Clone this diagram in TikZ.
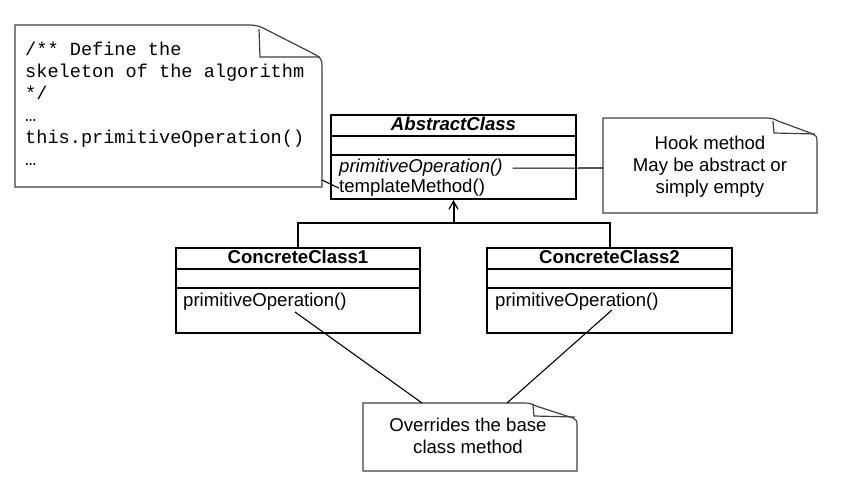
\documentclass[tikz,border=0pt]{standalone}
\usepackage{fontspec}
\setmainfont{Liberation Sans}
\newfontfamily\codefont{Liberation Mono}
\usetikzlibrary{arrows.meta,calc}
\begin{document}
\begin{tikzpicture}[x=1pt,y=-1pt,
  cls/.style={draw=black,line width=2pt,fill=white,rectangle,inner sep=0pt},
  sepline/.style={draw=black,line width=1.8pt},
  notebox/.style={draw=black!75,line width=1.2pt,fill=white},
  fold/.style={draw=black!75,line width=1.2pt},
  link/.style={draw=black,line width=1.1pt},
  gen/.style={draw=black,line width=2pt},
  txt/.style={inner sep=0pt,font=\fontsize{18.6}{22}\selectfont},
  code/.style={inner sep=0pt,font={\codefont\fontsize{18.6}{22}\selectfont}},
  ]
\useasboundingbox (0,0) rectangle (851,494);

% ---------- note 1 (code) ----------
\draw[notebox] (15,25) -- (248,25) .. controls (258,25) and (261,27) .. (267,30)
  -- (316,55) .. controls (321,58) and (322,60) .. (322,66) -- (322,187) -- (15,187) -- cycle;
\draw[fold] (259,29) -- (260,57) -- (320,57);
\coordinate (n1a) at (322,180);
\node[code,anchor=base west] (c1) at (25,56) {/** Define the};
\node[code,anchor=base west] (c2) at (25,78) {skeleton of the algorithm};
\node[code,anchor=base west] (c3) at (25,100) {*/};
\node[code,anchor=base west] (c4) at (25,122) {…};
\node[code,anchor=base west] (c5) at (25,144) {this.primitiveOperation()};
\node[code,anchor=base west] (c6) at (25,166) {…};

% ---------- AbstractClass ----------
\node[cls,minimum width=245pt,minimum height=84pt] (ac) at (453.5,157) {};
\draw[sepline] ($(ac.north west)+(0,22)$) -- ($(ac.north east)+(0,22)$);
\draw[sepline] ($(ac.north west)+(0,41)$) -- ($(ac.north east)+(0,41)$);
\node[txt,anchor=base,font=\fontsize{18.6}{22}\selectfont\bfseries\itshape] (acname) at (453.5,131) {AbstractClass};
\node[txt,anchor=base west,font=\fontsize{18.6}{22}\selectfont\itshape] (pa) at (339,173) {primitiveOperation()};
\node[txt,anchor=base west] (tm) at (339,193) {templateMethod()};

% ---------- ConcreteClass1 ----------
\node[cls,minimum width=244pt,minimum height=85pt] (cc1) at (298,290.5) {};
\draw[sepline] ($(cc1.north west)+(0,22)$) -- ($(cc1.north east)+(0,22)$);
\draw[sepline] ($(cc1.north west)+(0,41)$) -- ($(cc1.north east)+(0,41)$);
\node[txt,anchor=base,font=\fontsize{18.6}{22}\selectfont\bfseries] (cc1name) at (298,264) {ConcreteClass1};
\node[txt,anchor=base west] (po1) at (183,306) {primitiveOperation()};

% ---------- ConcreteClass2 ----------
\node[cls,minimum width=245pt,minimum height=85pt] (cc2) at (609.5,290.5) {};
\draw[sepline] ($(cc2.north west)+(0,22)$) -- ($(cc2.north east)+(0,22)$);
\draw[sepline] ($(cc2.north west)+(0,41)$) -- ($(cc2.north east)+(0,41)$);
\node[txt,anchor=base,font=\fontsize{18.6}{22}\selectfont\bfseries] (cc2name) at (609.5,264) {ConcreteClass2};
\node[txt,anchor=base west] (po2) at (495,306) {primitiveOperation()};

% ---------- generalization ----------
\coordinate (j) at (453.5,223);
\draw[gen] (cc1.north) |- (j) -| (cc2.north);
\draw[gen,-{Straight Barb[length=8pt,width=9pt,line width=1.2pt]}] (j) -- (ac.south);

% ---------- hook note ----------
\draw[notebox] (603,118) -- (766,118) .. controls (772,118) and (774,119) .. (778,121)
  -- (813,134) .. controls (816,135) and (817,137) .. (817,141) -- (817,213) -- (603,213) -- cycle;
\draw[fold] (773,121) -- (774,133) -- (815,134);
\coordinate (hk) at (603,168);
\node[txt,anchor=base] (h1) at (710,149.5) {Hook method};
\node[txt,anchor=base] (h2) at (710,171.5) {May be abstract or};
\node[txt,anchor=base] (h3) at (710,193.5) {simply empty};

% ---------- bottom note ----------
\draw[notebox] (363,403) -- (524,403) .. controls (530,403) and (532,404) .. (536,406)
  -- (573,418) .. controls (576,419) and (577,421) .. (577,425) -- (577,471) -- (363,471) -- cycle;
\draw[fold] (533,405) -- (534,416) -- (575,417);
\coordinate (ba) at (422,403);
\coordinate (bb) at (507,403);
\node[txt,anchor=base] (b1) at (468,431.5) {Overrides the base};
\node[txt,anchor=base] (b2) at (468,453) {class method};

% ---------- note links ----------
\draw[link] (n1a) -- (tm.west);
\draw[link] ($(pa.east)+(10,0)$) -- (hk);
\coordinate (p1) at (295,312);
\coordinate (p2) at (612,310);
\draw[link] (p1) -- (ba);
\draw[link] (p2) -- (bb);
\end{tikzpicture}
\end{document}
